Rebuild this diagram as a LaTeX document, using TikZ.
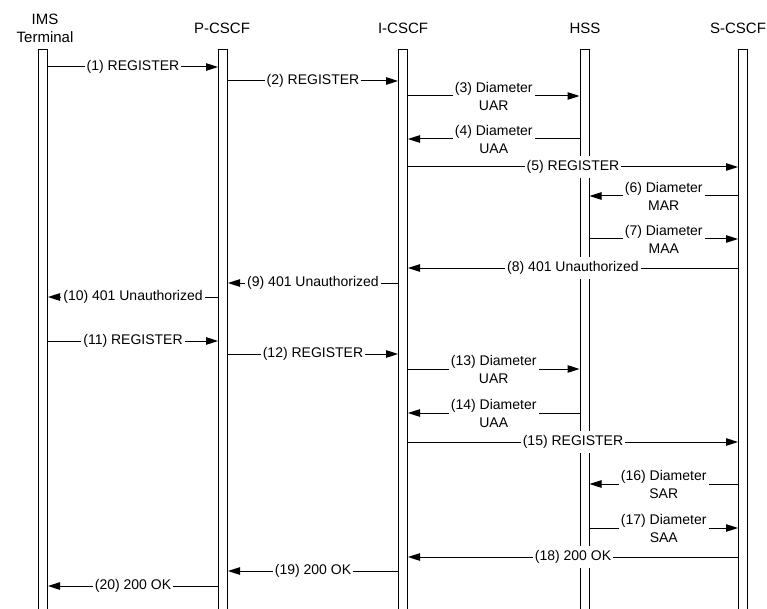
\documentclass[tikz,border=0pt]{standalone}
\usepackage{fontspec}
\setmainfont{Liberation Sans}
\usetikzlibrary{arrows.meta,positioning}

\begin{document}
\begin{tikzpicture}[x=1pt,y=-1pt,>={Triangle[length=12pt,width=7.5pt]},
    lifeline/.style={draw,line width=1pt,fill=white,inner sep=0pt,
      minimum width=9pt,minimum height=600pt,anchor=north},
    head/.style={font=\fontsize{15}{18}\selectfont,align=center,inner sep=0pt},
    msg/.style={->,line width=1pt},
    lbl/.style={fill=white,font=\fontsize{14}{18}\selectfont,align=center,
      inner xsep=2pt,inner ysep=4pt}]
  \useasboundingbox (0,0) rectangle (767,609);
  % entities
  \node[head] (imsH) at (45,28) {IMS\\Terminal};
  \node[head] (pH) at (222,28) {P-CSCF};
  \node[head] (iH) at (403,28) {I-CSCF};
  \node[head] (hH) at (585,28) {HSS};
  \node[head] (sH) at (738,28) {S-CSCF};
  \node[lifeline] (imsL) at (43,49) {};
  \node[lifeline] (pL) at (223,49) {};
  \node[lifeline] (iL) at (403,49) {};
  \node[lifeline] (hL) at (584.5,49) {};
  \node[lifeline] (sL) at (743,49) {};
  % first registration
  \draw[msg] (imsL.east |- 0,67) -- node[lbl]{(1) REGISTER} (pL.west |- 0,67);
  \draw[msg] (pL.east |- 0,81) -- node[lbl]{(2) REGISTER} (iL.west |- 0,81);
  \draw[msg] (iL.east |- 0,96) -- node[lbl]{(3) Diameter\\UAR} (hL.west |- 0,96);
  \draw[msg] (hL.west |- 0,139) -- node[lbl]{(4) Diameter\\UAA} (iL.east |- 0,139);
  \draw[msg] (iL.east |- 0,167) -- node[lbl]{(5) REGISTER} (sL.west |- 0,167);
  \draw[msg] (sL.west |- 0,196) -- node[lbl]{(6) Diameter\\MAR} (hL.east |- 0,196);
  \draw[msg] (hL.east |- 0,239) -- node[lbl]{(7) Diameter\\MAA} (sL.west |- 0,239);
  \draw[msg] (sL.west |- 0,268) -- node[lbl]{(8) 401 Unauthorized} (iL.east |- 0,268);
  \draw[msg] (iL.west |- 0,283) -- node[lbl]{(9) 401 Unauthorized} (pL.east |- 0,283);
  \draw[msg] (pL.west |- 0,297) -- node[lbl]{(10) 401 Unauthorized} (imsL.east |- 0,297);
  % second registration
  \draw[msg] (imsL.east |- 0,341) -- node[lbl]{(11) REGISTER} (pL.west |- 0,341);
  \draw[msg] (pL.east |- 0,354) -- node[lbl]{(12) REGISTER} (iL.west |- 0,354);
  \draw[msg] (iL.east |- 0,369) -- node[lbl]{(13) Diameter\\UAR} (hL.west |- 0,369);
  \draw[msg] (hL.west |- 0,413) -- node[lbl]{(14) Diameter\\UAA} (iL.east |- 0,413);
  \draw[msg] (iL.east |- 0,442) -- node[lbl]{(15) REGISTER} (sL.west |- 0,442);
  \draw[msg] (sL.west |- 0,484) -- node[lbl]{(16) Diameter\\SAR} (hL.east |- 0,484);
  \draw[msg] (hL.east |- 0,528) -- node[lbl]{(17) Diameter\\SAA} (sL.west |- 0,528);
  \draw[msg] (sL.west |- 0,557) -- node[lbl]{(18) 200 OK} (iL.east |- 0,557);
  \draw[msg] (iL.west |- 0,571) -- node[lbl]{(19) 200 OK} (pL.east |- 0,571);
  \draw[msg] (pL.west |- 0,586) -- node[lbl]{(20) 200 OK} (imsL.east |- 0,586);
\end{tikzpicture}
\end{document}
